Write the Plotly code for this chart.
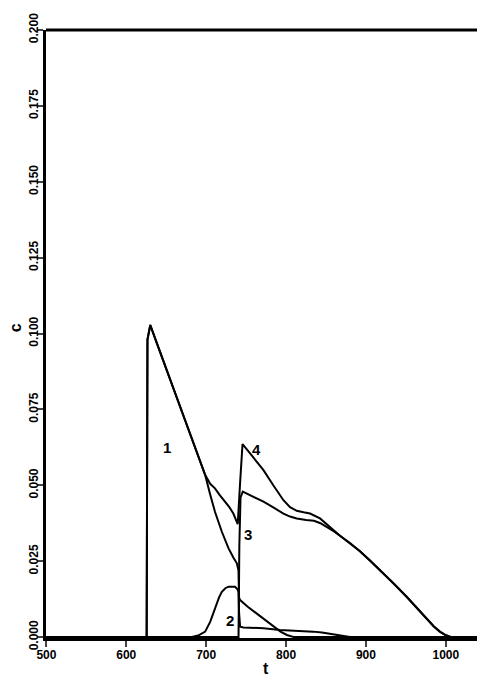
import plotly.graph_objects as go

# Curve 1
t1 = [500, 625.5, 626.5, 630, 645, 660, 675, 690, 698.75, 705, 711, 719.6, 728, 734, 738.4, 740.4,
      741.2, 742.5, 752, 763, 774, 784, 793, 801, 810, 1044]
c1 = [0, 0, 0.098, 0.1028, 0.0920, 0.0812, 0.0705, 0.0597, 0.0534, 0.0470, 0.0413, 0.0347, 0.0292,
      0.0262, 0.0243, 0.0220, 0.0130, 0.0122, 0.0100, 0.0078, 0.0055, 0.0034, 0.0018, 0.0007, 0, 0]

# Curve 2
t2 = [500, 682, 690, 698.75, 705, 711, 716, 719.6, 724, 728, 736, 739, 740.4, 741.2, 742.5, 746.6,
      771.7, 792.5, 813, 834, 845, 855, 868, 880, 1044]
c2 = [0, 0, 0.0005, 0.0018, 0.0050, 0.0095, 0.0130, 0.0149, 0.0161, 0.0166, 0.0166, 0.0158, 0.0149,
      0.0080, 0.0034, 0.0032, 0.0029, 0.0023, 0.0021, 0.0018, 0.0015, 0.0010, 0.0004, 0, 0]

# Curve 3
t3 = [500, 740.5, 741.5, 743, 745.8, 758, 771.7, 784, 796.7, 805, 813.4, 825, 835, 843, 851, 860,
      867.5, 880, 892.5, 905, 917.5, 934, 950.9, 963, 975.9, 985, 992.5, 1000, 1007, 1044]
c3 = [0, 0, 0.030, 0.046, 0.0479, 0.0463, 0.0446, 0.0427, 0.0407, 0.0397, 0.0391, 0.0386, 0.0383,
      0.0375, 0.0363, 0.0348, 0.0334, 0.0310, 0.0283, 0.0252, 0.0221, 0.0178, 0.0133, 0.0097,
      0.0062, 0.0035, 0.0018, 0.0006, 0, 0]

# Curve 4
t4 = [500, 625.5, 626.5, 630, 645, 660, 675, 690, 698.75, 705, 711, 717, 723.75, 729, 734, 739.5,
      742.5, 745.5, 758, 771.7, 784, 796.7, 805, 813.4, 822, 830, 842.5, 855, 867.5, 880, 892.5,
      905, 917.5, 934, 950.9, 963, 975.9, 985, 992.5, 1000, 1007, 1044]
c4 = [0, 0, 0.098, 0.1028, 0.0920, 0.0812, 0.0705, 0.0597, 0.0534, 0.0505, 0.0490, 0.0468, 0.0446,
      0.0428, 0.0407, 0.0372, 0.0510, 0.0636, 0.0595, 0.0550, 0.0500, 0.0451, 0.0428, 0.0416,
      0.0411, 0.0407, 0.0391, 0.0363, 0.0334, 0.0310, 0.0283, 0.0252, 0.0221, 0.0178, 0.0133,
      0.0097, 0.0062, 0.0035, 0.0018, 0.0006, 0, 0]

curve_labels = ["1", "2", "3", "4"]
label_t = [651, 730, 752.5, 762.5]
label_c = [0.0626, 0.0056, 0.0339, 0.0619]

x_ticks = [500, 600, 700, 800, 900, 1000]
y_ticks = [0, 0.025, 0.05, 0.075, 0.1, 0.125, 0.15, 0.175, 0.2]

fig = go.Figure()
for t, c in [(t1, c1), (t2, c2), (t3, c3), (t4, c4)]:
    fig.add_trace(go.Scatter(x=t, y=c, mode="lines",
                             line=dict(color="black", width=2),
                             showlegend=False, hoverinfo="skip"))

for lab, lt, lc in zip(curve_labels, label_t, label_c):
    fig.add_annotation(x=lt, y=lc, text=lab, showarrow=False,
                       font=dict(family="Liberation Sans", size=15, color="black", weight="bold"))

# axis titles
fig.add_annotation(xref="paper", yref="paper", x=-0.068, y=0.51, text="c", showarrow=False,
                   xanchor="center", yanchor="middle", textangle=-90, borderpad=0,
                   font=dict(family="Liberation Sans", size=16, color="black", weight="bold"))
fig.add_annotation(xref="paper", yref="paper", x=0.505, y=-0.05, text="t", showarrow=False,
                   xanchor="center", yanchor="middle",
                   font=dict(family="Liberation Sans", size=16, color="black", weight="bold"))

fig.add_shape(type="line", xref="paper", yref="paper", x0=1, x1=1, y0=0, y1=1,
              line=dict(color="black", width=1))
fig.add_shape(type="line", xref="paper", yref="paper", x0=0, x1=1, y0=1, y1=1,
              line=dict(color="black", width=3))

fig.update_layout(
    width=477, height=670,
    margin=dict(l=38, r=4, t=22, b=40),
    paper_bgcolor="white", plot_bgcolor="white",
    font=dict(family="Liberation Sans", color="black", weight="bold"),
)
fig.update_xaxes(range=[499.5, 1044], tickvals=x_ticks, ticks="outside", ticklen=6, tickwidth=2,
                 showline=True, linewidth=3, linecolor="black", showgrid=False, automargin=False,
                 zeroline=False, tickfont=dict(size=12, weight="bold"), ticklabelstandoff=-2)
fig.update_yaxes(range=[-0.0003, 0.2], tickvals=y_ticks, tickformat=".3f", ticks="outside",
                 ticklen=6, tickwidth=2, tickangle=-90, automargin=False,
                 showline=True, linewidth=3, linecolor="black", showgrid=False, zeroline=False,
                 tickfont=dict(size=12, weight="bold"), ticklabelstandoff=-6)

fig.write_html("out.html")
